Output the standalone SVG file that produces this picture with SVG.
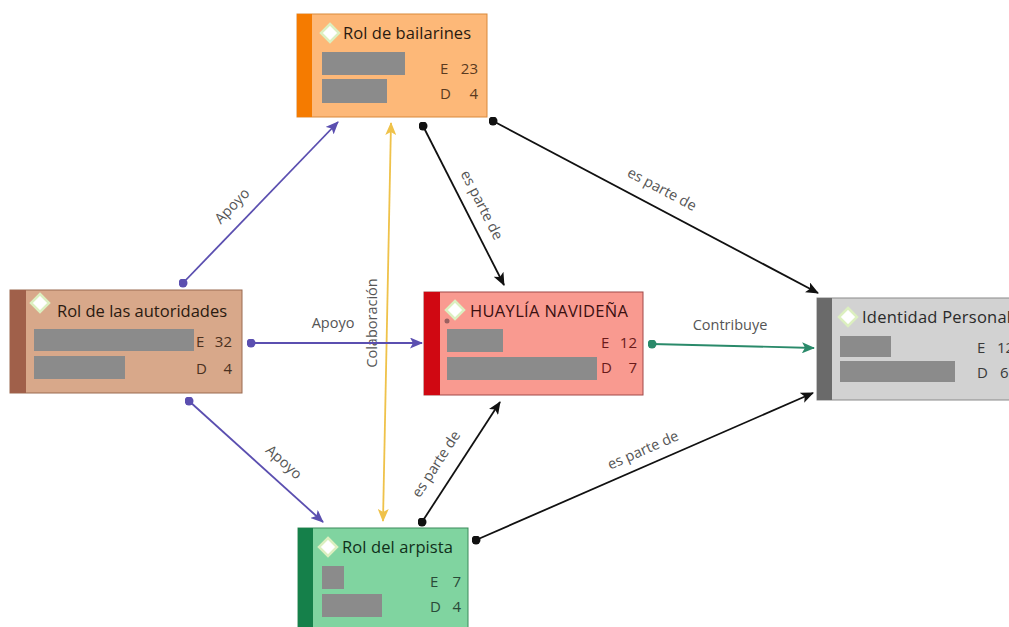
<svg xmlns="http://www.w3.org/2000/svg" width="1009" height="627" viewBox="0 0 1009 627">
<style>
.title{font-family:"Open Sans","Noto Sans",sans-serif;font-size:16.5px}
.num{font-family:"Open Sans","Noto Sans",sans-serif;font-size:15px}
.lbl{font-family:"Open Sans","Noto Sans",sans-serif;font-size:14.5px;fill:#555}
.bar{fill:#8b8b8b}
.dia{fill:#fff;stroke:#dcefc0;stroke-width:2.5}
.c{fill:none;stroke-width:1.8}
</style>
<defs>
<marker id="aP" viewBox="0 0 13 11" refX="12" refY="5.5" markerWidth="13" markerHeight="11" markerUnits="userSpaceOnUse" orient="auto-start-reverse"><path d="M0,0 L13,5.5 L0,11 L3,5.5 z" fill="#5b4fb0"/></marker>
<marker id="aY" viewBox="0 0 13 11" refX="12" refY="5.5" markerWidth="13" markerHeight="11" markerUnits="userSpaceOnUse" orient="auto-start-reverse"><path d="M0,0 L13,5.5 L0,11 L3,5.5 z" fill="#efc24a"/></marker>
<marker id="aK" viewBox="0 0 13 11" refX="12" refY="5.5" markerWidth="13" markerHeight="11" markerUnits="userSpaceOnUse" orient="auto-start-reverse"><path d="M0,0 L13,5.5 L0,11 L3,5.5 z" fill="#111"/></marker>
<marker id="aT" viewBox="0 0 13 11" refX="12" refY="5.5" markerWidth="13" markerHeight="11" markerUnits="userSpaceOnUse" orient="auto-start-reverse"><path d="M0,0 L13,5.5 L0,11 L3,5.5 z" fill="#2a8a6a"/></marker>
<marker id="dP" viewBox="0 0 10 10" refX="5" refY="5" markerWidth="9" markerHeight="9" markerUnits="userSpaceOnUse"><circle cx="5" cy="5" r="5" fill="#5b4fb0"/></marker>
<marker id="dK" viewBox="0 0 10 10" refX="5" refY="5" markerWidth="9" markerHeight="9" markerUnits="userSpaceOnUse"><circle cx="5" cy="5" r="5" fill="#111"/></marker>
<marker id="dT" viewBox="0 0 10 10" refX="5" refY="5" markerWidth="9" markerHeight="9" markerUnits="userSpaceOnUse"><circle cx="5" cy="5" r="5" fill="#2a8a6a"/></marker>
</defs>
<rect width="1009" height="627" fill="#fff"/>

<g id="connectors">
<line class="c" x1="183" y1="283" x2="338" y2="122" stroke="#5b4fb0" marker-start="url(#dP)" marker-end="url(#aP)"/>
<text class="lbl" transform="translate(232,206) rotate(-46)" text-anchor="middle" y="5">Apoyo</text>
<line class="c" x1="391" y1="123" x2="383" y2="521" stroke="#efc24a" marker-start="url(#aY)" marker-end="url(#aY)"/>
<text class="lbl" transform="translate(372,323) rotate(-90)" text-anchor="middle" y="5">Colaboración</text>
<line class="c" x1="423" y1="126" x2="504" y2="285" stroke="#111" marker-start="url(#dK)" marker-end="url(#aK)"/>
<text class="lbl" transform="translate(482,205) rotate(63)" text-anchor="middle" y="5">es parte de</text>
<line class="c" x1="493" y1="121" x2="818" y2="293" stroke="#111" marker-start="url(#dK)" marker-end="url(#aK)"/>
<text class="lbl" transform="translate(662,189) rotate(28)" text-anchor="middle" y="5">es parte de</text>
<line class="c" x1="251" y1="343" x2="422" y2="343" stroke="#5b4fb0" marker-start="url(#dP)" marker-end="url(#aP)"/>
<text class="lbl" x="333" y="328" text-anchor="middle">Apoyo</text>
<line class="c" x1="652" y1="344" x2="814" y2="348" stroke="#2a8a6a" marker-start="url(#dT)" marker-end="url(#aT)"/>
<text class="lbl" x="730" y="330" text-anchor="middle">Contribuye</text>
<line class="c" x1="189" y1="401" x2="323" y2="522" stroke="#5b4fb0" marker-start="url(#dP)" marker-end="url(#aP)"/>
<text class="lbl" transform="translate(284,462) rotate(42)" text-anchor="middle" y="5">Apoyo</text>
<line class="c" x1="422" y1="522" x2="500" y2="402" stroke="#111" marker-start="url(#dK)" marker-end="url(#aK)"/>
<text class="lbl" transform="translate(436,464) rotate(-57)" text-anchor="middle" y="5">es parte de</text>
<line class="c" x1="476" y1="540" x2="813" y2="393" stroke="#111" marker-start="url(#dK)" marker-end="url(#aK)"/>
<text class="lbl" transform="translate(643,450) rotate(-23.6)" text-anchor="middle" y="5">es parte de</text>
</g>

<g id="bailarines">
<rect x="297" y="14" width="190" height="103" fill="#fdb878" stroke="#d9893a" stroke-width="1"/>
<rect x="297" y="14" width="15" height="103" fill="#f57b00"/>
<polygon class="dia" points="330,24 339,33 330,42 321,33"/>
<text class="title" x="343" y="39" fill="#2a1a10" textLength="128">Rol de bailarines</text>
<rect class="bar" x="322" y="52" width="83" height="23"/>
<rect class="bar" x="322" y="79" width="65" height="24"/>
<text class="num" x="440" y="74" fill="#5a3a20">E</text>
<text class="num" x="478" y="74" fill="#5a3a20" text-anchor="end">23</text>
<text class="num" x="440" y="99" fill="#5a3a20">D</text>
<text class="num" x="478" y="99" fill="#5a3a20" text-anchor="end">4</text>
</g>

<g id="autoridades">
<rect x="10" y="290" width="232" height="103" fill="#d8a88a" stroke="#9a6a50" stroke-width="1"/>
<rect x="10" y="290" width="16" height="103" fill="#a0604a"/>
<polygon class="dia" points="40,294 49,303 40,312 31,303"/>
<text class="title" x="57" y="317" fill="#2a1a10" textLength="170">Rol de las autoridades</text>
<rect class="bar" x="34" y="329" width="160" height="22"/>
<rect class="bar" x="34" y="356" width="91" height="23"/>
<text class="num" x="196" y="347" fill="#4a3020">E</text>
<text class="num" x="232" y="347" fill="#4a3020" text-anchor="end">32</text>
<text class="num" x="196" y="374" fill="#4a3020">D</text>
<text class="num" x="232" y="374" fill="#4a3020" text-anchor="end">4</text>
</g>

<g id="huaylia">
<rect x="424" y="292" width="219" height="103" fill="#f99a90" stroke="#a04848" stroke-width="1"/>
<rect x="424" y="292" width="16" height="103" fill="#d00812"/>
<polygon class="dia" points="455,301 464,310 455,319 446,310"/>
<circle cx="447" cy="321" r="2.5" fill="#9a6060"/>
<text class="title" x="470" y="317" fill="#3a1010" textLength="158">HUAYLÍA NAVIDEÑA</text>
<rect class="bar" x="447" y="329" width="56" height="23" fill="#8c8484"/>
<rect class="bar" x="447" y="357" width="150" height="23" fill="#8c8484"/>
<text class="num" x="601" y="348" fill="#6a1a1a">E</text>
<text class="num" x="637" y="348" fill="#6a1a1a" text-anchor="end">12</text>
<text class="num" x="601" y="373" fill="#6a1a1a">D</text>
<text class="num" x="637" y="373" fill="#6a1a1a" text-anchor="end">7</text>
</g>

<g id="identidad">
<rect x="817" y="298" width="210" height="102" fill="#d2d2d2" stroke="#8a8a8a" stroke-width="1"/>
<rect x="817" y="298" width="15" height="102" fill="#6a6a6a"/>
<polygon class="dia" points="848,308 857,317 848,326 839,317"/>
<text class="title" x="862" y="323" fill="#2a2a2a" textLength="149">Identidad Personal</text>
<rect class="bar" x="840" y="336" width="51" height="21" fill="#8e8e8e"/>
<rect class="bar" x="840" y="361" width="115" height="21" fill="#8e8e8e"/>
<text class="num" x="977" y="353" fill="#3a3a3a">E</text>
<text class="num" x="997" y="353" fill="#3a3a3a">12</text>
<text class="num" x="977" y="378" fill="#3a3a3a">D</text>
<text class="num" x="1000" y="378" fill="#3a3a3a">6</text>
</g>

<g id="arpista">
<rect x="298" y="528" width="170" height="110" fill="#80d4a0" stroke="#3a8a5a" stroke-width="1"/>
<rect x="298" y="528" width="15" height="110" fill="#15804a"/>
<polygon class="dia" points="328,538 337,547 328,556 319,547"/>
<text class="title" x="342" y="553" fill="#10301a" textLength="111">Rol del arpista</text>
<rect class="bar" x="322" y="566" width="22" height="23" fill="#968a90"/>
<rect class="bar" x="322" y="594" width="60" height="23" fill="#968a90"/>
<text class="num" x="430" y="587" fill="#2a4a38">E</text>
<text class="num" x="461" y="587" fill="#2a4a38" text-anchor="end">7</text>
<text class="num" x="430" y="612" fill="#2a4a38">D</text>
<text class="num" x="461" y="612" fill="#2a4a38" text-anchor="end">4</text>
</g>
</svg>
